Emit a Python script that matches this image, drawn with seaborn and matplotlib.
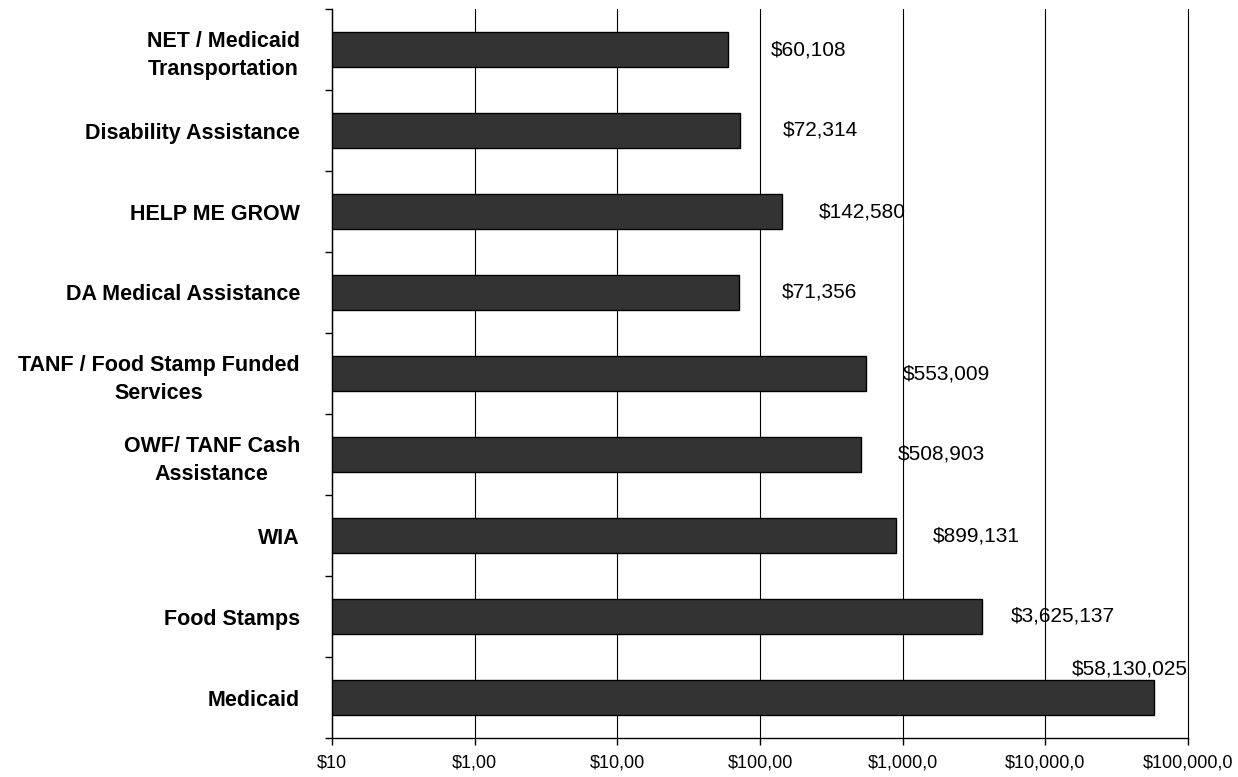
import matplotlib
matplotlib.use('Agg')
import matplotlib.pyplot as plt
import seaborn as sns
import numpy as np
import pandas as pd
from matplotlib.ticker import FixedLocator, NullLocator

categories = [
    "NET / Medicaid\nTransportation",
    "Disability Assistance",
    "HELP ME GROW",
    "DA Medical Assistance",
    "TANF / Food Stamp Funded\nServices",
    "OWF/ TANF Cash\nAssistance",
    "WIA",
    "Food Stamps",
    "Medicaid",
]
values = [60108, 72314, 142580, 71356, 553009, 508903, 899131, 3625137, 58130025]
value_labels = ["$60,108", "$72,314", "$142,580", "$71,356", "$553,009",
                "$508,903", "$899,131", "$3,625,137", "$58,130,025"]
tick_values = [1e2, 1e3, 1e4, 1e5, 1e6, 1e7, 1e8]
tick_labels = ["$10", "$1,00", "$10,00", "$100,00", "$1,000,0", "$10,000,0", "$100,000,0"]

sns.set_theme(style="white")
plt.rcParams['font.family'] = ['Liberation Sans', 'DejaVu Sans']

W, H = 1238, 777
fig = plt.figure(figsize=(W / 100, H / 100), dpi=100)
ax = fig.add_axes([332 / W, 39 / H, 856 / W, 729 / H])

df = pd.DataFrame({"category": categories, "value": values})
bar_width = 0.43
sns.barplot(data=df, x="value", y="category", orient="h", color="#333333",
            saturation=1, edgecolor="black", linewidth=1.0, width=bar_width,
            ax=ax, errorbar=None)
ax.set_xscale("log")

ax.set_xlim(tick_values[0], tick_values[-1])
ax.set_ylim(len(categories) - 0.5, -0.5)
ax.set_xlabel("")
ax.set_ylabel("")

# x axis
ax.xaxis.set_major_locator(FixedLocator(tick_values))
ax.xaxis.set_minor_locator(NullLocator())
ax.set_xticklabels(tick_labels)
ax.tick_params(axis="x", which="major", bottom=True, length=5, width=1,
               color="black", direction="out", pad=7, labelsize=13,
               labelcolor="black")
ax.xaxis.grid(True, color="black", linewidth=0.8)
ax.yaxis.grid(False)
ax.set_axisbelow(True)
for gl in ax.get_xgridlines():
    gl.set_clip_on(False)

# y axis
ax.yaxis.set_minor_locator(FixedLocator(np.arange(-0.5, len(categories), 1.0)))
ax.tick_params(axis="y", which="minor", left=True, length=5, width=1,
               color="black", direction="out")
ax.tick_params(axis="y", which="major", left=False, length=0, pad=23,
               labelsize=15.5, labelcolor="black")
for lab in ax.get_yticklabels():
    lab.set_fontweight("bold")
    lab.set_multialignment("center")
    lab.set_linespacing(1.45)

for side in ["top", "right"]:
    ax.spines[side].set_visible(False)
for side in ["left", "bottom"]:
    ax.spines[side].set_visible(True)
    ax.spines[side].set_color("black")
    ax.spines[side].set_linewidth(1)

# value labels
vmax = max(values)
xmax = ax.get_xlim()[1]
for i, (v, lab) in enumerate(zip(values, value_labels)):
    if v == vmax:
        ax.annotate(lab, xy=(xmax, i - bar_width / 2), xytext=(0, 1),
                    textcoords="offset points", ha="right", va="bottom",
                    fontsize=15, color="black", annotation_clip=False)
    else:
        ax.annotate(lab, xy=(v, i), xytext=(58, 0), textcoords="offset points",
                    ha="center", va="center", fontsize=15, color="black")

fig.savefig("out.png", dpi=100)
